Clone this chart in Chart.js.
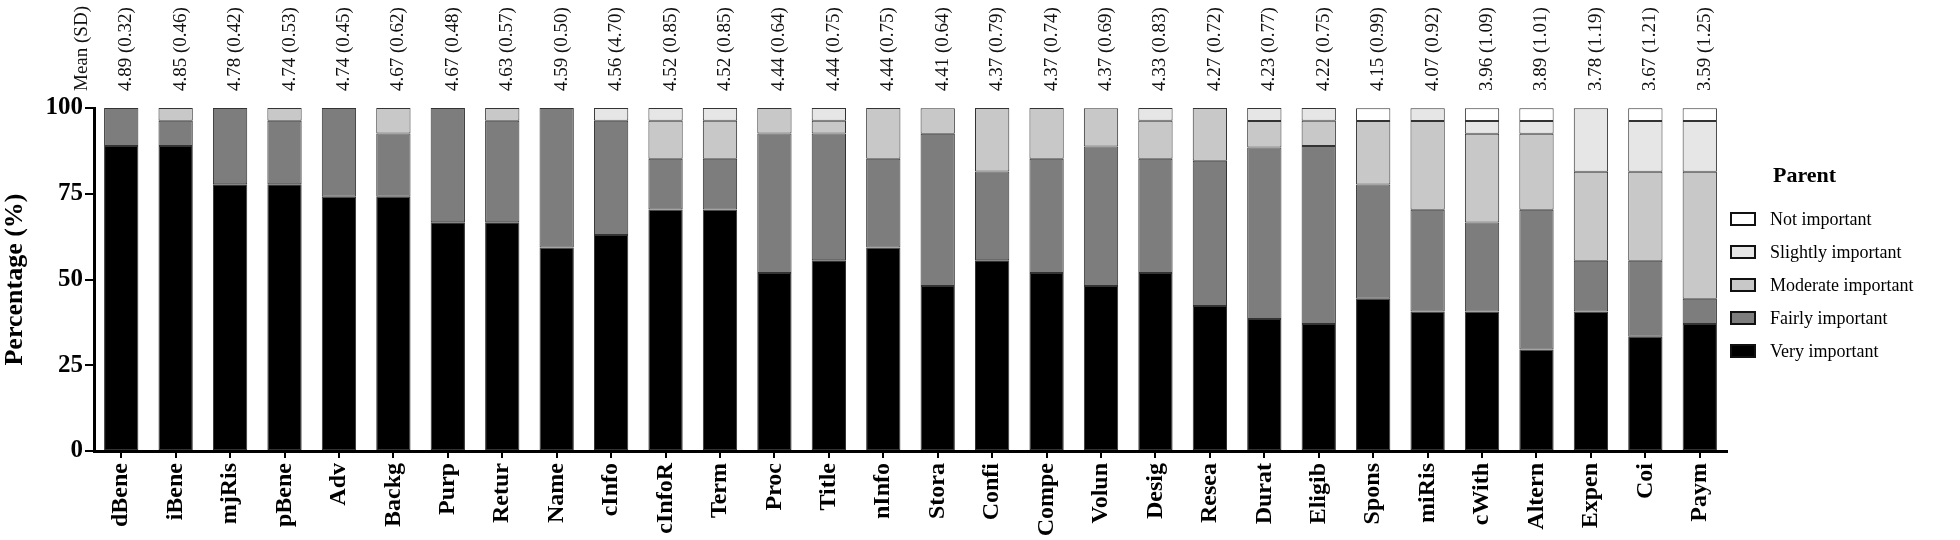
<!DOCTYPE html>
<html>
<head>
<meta charset="utf-8">
<script src="https://cdn.jsdelivr.net/npm/chart.js@4.4.1/dist/chart.umd.min.js"></script>
<style>
  html, body { margin: 0; padding: 0; background: #fff; }
</style>
</head>
<body>
<canvas id="chart" width="1960" height="540"></canvas>
<script>
const categories = ["dBene", "iBene", "mjRis", "pBene", "Adv", "Backg", "Purp", "Retur", "Name", "cInfo",
    "cInfoR", "Term", "Proc", "Title", "nInfo", "Stora", "Confi", "Compe", "Volun", "Desig",
    "Resea", "Durat", "Eligib", "Spons", "miRis", "cWith", "Altern", "Expen", "Coi", "Paym"];

// mean (SD) printed above each bar
const meanSd = ["4.89 (0.32)", "4.85 (0.46)", "4.78 (0.42)", "4.74 (0.53)", "4.74 (0.45)", "4.67 (0.62)",
    "4.67 (0.48)", "4.63 (0.57)", "4.59 (0.50)", "4.56 (4.70)", "4.52 (0.85)", "4.52 (0.85)",
    "4.44 (0.64)", "4.44 (0.75)", "4.44 (0.75)", "4.41 (0.64)", "4.37 (0.79)", "4.37 (0.74)",
    "4.37 (0.69)", "4.33 (0.83)", "4.27 (0.72)", "4.23 (0.77)", "4.22 (0.75)", "4.15 (0.99)",
    "4.07 (0.92)", "3.96 (1.09)", "3.89 (1.01)", "3.78 (1.19)", "3.67 (1.21)", "3.59 (1.25)"];

// percentages per answer level
const veryImportant = [88.9, 88.9, 77.8, 77.8, 74.1, 74.1, 66.7, 66.7, 59.3, 63.0,
    70.4, 70.4, 51.9, 55.6, 59.3, 48.1, 55.6, 51.9, 48.1, 51.9,
    42.3, 38.5, 37.0, 44.4, 40.7, 40.7, 29.6, 40.7, 33.3, 37.0];
const fairlyImportant = [11.1, 7.4, 22.2, 18.5, 25.9, 18.5, 33.3, 29.6, 40.7, 33.3,
    14.8, 14.8, 40.7, 37.0, 25.9, 44.4, 25.9, 33.3, 40.7, 33.3,
    42.3, 50.0, 51.9, 33.3, 29.6, 25.9, 40.7, 14.8, 22.2, 7.4];
const moderateImportant = [0, 3.7, 0, 3.7, 0, 7.4, 0, 3.7, 0, 0,
    11.1, 11.1, 7.4, 3.7, 14.8, 7.4, 18.5, 14.8, 11.1, 11.1,
    15.4, 7.7, 7.4, 18.5, 25.9, 25.9, 22.2, 25.9, 25.9, 37.0];
const slightlyImportant = [0, 0, 0, 0, 0, 0, 0, 0, 0, 3.7,
    3.7, 3.7, 0, 3.7, 0, 0, 0, 0, 0, 3.7,
    0, 3.8, 3.7, 0, 3.7, 3.7, 3.7, 18.5, 14.8, 14.8];
const notImportant = [0, 0, 0, 0, 0, 0, 0, 0, 0, 0,
    0, 0, 0, 0, 0, 0, 0, 0, 0, 0,
    0, 0, 0, 3.7, 0, 3.7, 3.7, 0, 3.7, 3.7];

const yTicks = [0, 25, 50, 75, 100];

const serif = "'Liberation Serif', 'Times New Roman', serif";

function series(label, data, color) {
    return {
        label: label,
        data: data,
        backgroundColor: color,
        borderColor: "#333333",
        borderWidth: 1,
        borderSkipped: false,
        barPercentage: 0.63,
        categoryPercentage: 1.0
    };
}

const datasets = [
    series("Very important", veryImportant, "#000000"),
    series("Fairly important", fairlyImportant, "#7d7d7d"),
    series("Moderate important", moderateImportant, "#c8c8c8"),
    series("Slightly important", slightlyImportant, "#e6e6e6"),
    series("Not important", notImportant, "#ffffff")
];

// mean (SD) labels over the bars
const meanLabels = {
    id: "meanLabels",
    afterDraw(chart) {
        const ctx = chart.ctx;
        const xScale = chart.scales.x;
        ctx.save();
        ctx.font = "19px " + serif;
        ctx.fillStyle = "#111";
        ctx.textAlign = "left";
        ctx.textBaseline = "middle";
        const put = (x, text) => {
            ctx.save();
            ctx.translate(x, 91);
            ctx.rotate(-Math.PI / 2);
            ctx.fillText(text, 0, 0);
            ctx.restore();
        };
        put(82, "Mean (SD)");
        meanSd.forEach((t, i) => put(xScale.getPixelForValue(i) + 5, t));
        ctx.restore();
    }
};

// legend on the right, top row = last dataset
const sideLegend = {
    id: "sideLegend",
    afterDraw(chart) {
        const ctx = chart.ctx;
        ctx.save();
        ctx.fillStyle = "#000";
        ctx.textBaseline = "middle";
        ctx.textAlign = "left";
        ctx.font = "bold 22px " + serif;
        ctx.fillText("Parent", 1773, 176);
        ctx.font = "18px " + serif;
        const rows = chart.data.datasets.slice().reverse();
        rows.forEach((ds, i) => {
            const y = 219 + i * 33;
            ctx.fillStyle = ds.backgroundColor;
            ctx.fillRect(1731, y - 6, 24, 12);
            ctx.lineWidth = 2;
            ctx.strokeStyle = "#111";
            ctx.strokeRect(1731, y - 6, 24, 12);
            ctx.fillStyle = "#000";
            ctx.fillText(ds.label, 1770, y + 1);
        });
        ctx.restore();
    }
};

new Chart(document.getElementById("chart"), {
    type: "bar",
    data: { labels: categories, datasets: datasets },
    options: {
        responsive: false,
        animation: false,
        layout: { padding: { top: 108, right: 233, bottom: 0, left: 0 } },
        plugins: {
            legend: { display: false },
            tooltip: { enabled: false }
        },
        scales: {
            x: {
                stacked: true,
                afterFit: scale => { scale.height = 89; },
                border: { display: true, color: "#000", width: 3 },
                grid: { display: true, offset: false, drawOnChartArea: false, drawTicks: true, tickLength: 7, color: "#000", lineWidth: 2 },
                ticks: {
                    color: "#000",
                    font: { family: serif, size: 24, weight: "bold" },
                    minRotation: 90,
                    maxRotation: 90,
                    autoSkip: false,
                    padding: 5
                }
            },
            y: {
                stacked: true,
                min: 0,
                max: 100,
                afterFit: scale => { scale.width = 94; },
                afterBuildTicks: scale => { scale.ticks = yTicks.map(v => ({ value: v })); },
                border: { display: true, color: "#000", width: 3 },
                grid: { display: true, drawOnChartArea: false, drawTicks: true, tickLength: 9, color: "#000", lineWidth: 2 },
                ticks: {
                    color: "#000",
                    font: { family: serif, size: 25, weight: "bold" },
                    padding: 2
                },
                title: {
                    display: true,
                    text: "Percentage (%)",
                    color: "#000",
                    font: { family: serif, size: 26, weight: "bold" },
                    padding: { top: 0, bottom: 0 }
                }
            }
        }
    },
    plugins: [meanLabels, sideLegend]
});
</script>
</body>
</html>
